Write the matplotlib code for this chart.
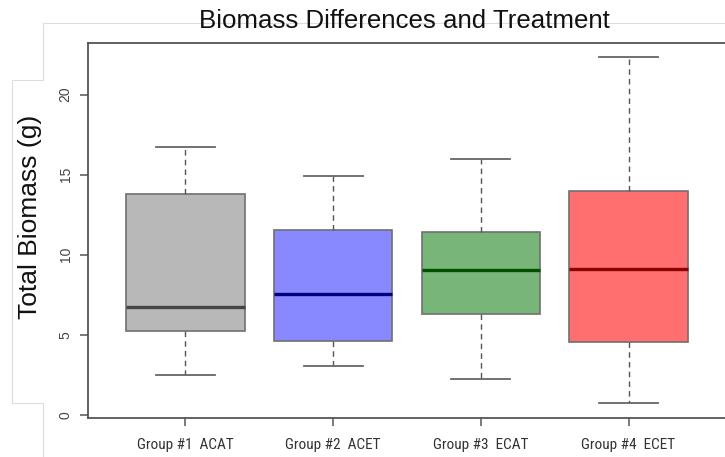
import matplotlib
matplotlib.use("Agg")
import matplotlib.pyplot as plt
from matplotlib import font_manager
from matplotlib.lines import Line2D

# ---- data ----
groups = ["Group #1  ACAT", "Group #2  ACET", "Group #3  ECAT", "Group #4  ECET"]
whisker_low = [2.50, 3.08, 2.23, 0.73]
q1 = [5.24, 4.64, 6.29, 4.58]
median = [6.72, 7.57, 9.03, 9.09]
q3 = [13.80, 11.55, 11.44, 13.98]
whisker_high = [16.75, 14.92, 15.95, 22.37]
fill_colors = ["#b8b8b8", "#8888ff", "#78b578", "#ff6f6f"]
median_colors = ["#444444", "#000080", "#005000", "#8b0000"]
yticks = [0, 5, 10, 15, 20]
title = "Biomass Differences and Treatment"
ylabel = "Total Biomass (g)"

names = {f.name for f in font_manager.fontManager.ttflist}
narrow = None
for cand in ["Liberation Sans Narrow", "Roboto Condensed", "Archivo Narrow",
             "Open Sans Condensed", "DejaVu Sans Condensed"]:
    if cand in names:
        narrow = cand
        break
plt.rcParams["font.family"] = ["Liberation Sans", "DejaVu Sans"]

W, H = 725, 457
fig = plt.figure(figsize=(W / 100, H / 100), dpi=100)
ax = fig.add_axes([88 / W, (H - 417.5) / H, (726 - 88) / W, (417.5 - 42.7) / H])

stats = []
for i in range(len(groups)):
    stats.append(dict(med=median[i], q1=q1[i], q3=q3[i],
                      whislo=whisker_low[i], whishi=whisker_high[i], fliers=[]))

edge = "#707070"
bp = ax.bxp(stats, positions=range(1, len(groups) + 1), widths=0.8,
            capwidths=0.4, patch_artist=True, showfliers=False,
            boxprops=dict(edgecolor=edge, linewidth=1.2),
            whiskerprops=dict(color="#555555", linewidth=1.0, linestyle=(0, (4, 3))),
            capprops=dict(color="#666666", linewidth=1.3),
            medianprops=dict(linewidth=2.4))
for patch, c in zip(bp["boxes"], fill_colors):
    patch.set_facecolor(c)
for med, c in zip(bp["medians"], median_colors):
    med.set_color(c)

ax.set_xlim(0.34, 4.66)
ax.set_ylim(-0.156, 23.24)
ax.set_yticks(yticks)
ax.set_yticklabels([str(t) for t in yticks], rotation=90, va="center",
                   fontsize=10, color="#444444")
ax.set_xticks(range(1, len(groups) + 1))
if narrow:
    ax.set_xticklabels(groups, fontsize=11, color="#333333", family=[narrow, "DejaVu Sans"])
else:
    ax.set_xticklabels(groups, fontsize=9.5, color="#333333")
ax.tick_params(axis="both", length=6, width=1.1, color="#555555", direction="out")
ax.tick_params(axis="y", pad=5)
ax.tick_params(axis="x", pad=8.5)
for s in ax.spines.values():
    s.set_color("#555555")
    s.set_linewidth(1.3)

fig.text(404 / W, 1 - 28.3 / H, title, ha="center", va="baseline",
         fontsize=18.6, color="#111111")
fig.text(30 / W, 1 - 217 / H, ylabel, ha="center", va="center",
         rotation=90, fontsize=19, color="#111111")

# faint screenshot frame lines
px = [725, 43, 43, 12, 12, 43, 43]
py = [22.7, 22.7, 80, 80, 403.3, 403.3, 457]
fig.add_artist(Line2D([x / W for x in px], [1 - y / H for y in py],
                      color="#dddddd", linewidth=0.8, zorder=0))

fig.savefig("out.png", dpi=100)
